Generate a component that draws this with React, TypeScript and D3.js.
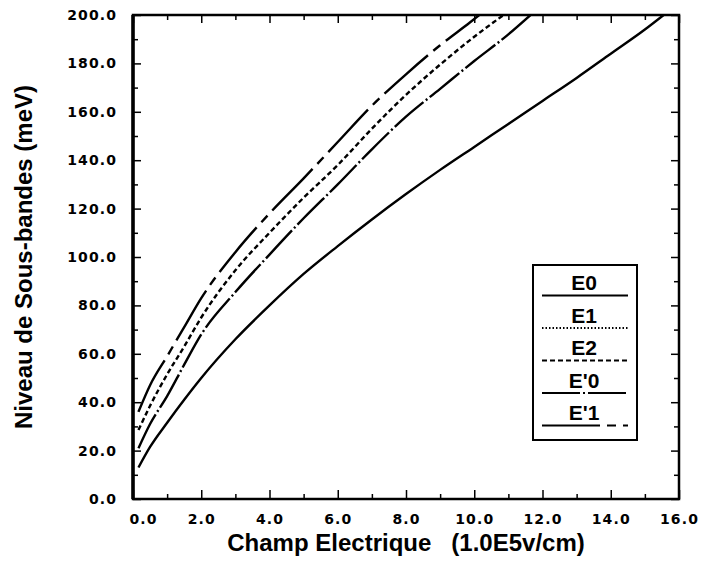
import { useEffect, useRef } from "react";
import {
  select,
  scaleLinear,
  line,
  curveMonotoneX,
  range,
  axisBottom,
  axisLeft,
  axisTop,
  axisRight,
  format,
} from "d3";

// values: [champ, niveau]
const e0 = [
  [0.16, 13], [0.5, 21.5], [1, 31.5], [1.5, 41], [2, 50], [3, 66], [4, 80],
  [5, 93], [6, 104.5], [7, 115.5], [8, 126], [9, 136], [10, 145.5],
  [11, 155], [12, 164.5], [13, 174], [14, 184], [15, 194], [15.55, 200],
];
const e1: number[][] = []; // dotted curve is not visible on the figure
const e2 = [
  [0.16, 28.5], [0.5, 38.5], [1, 51.5], [1.5, 63], [2, 75], [3, 94.5],
  [4, 110], [5, 124.5], [6, 138], [7, 153], [8, 167], [9, 179.5], [10, 191],
  [10.86, 200],
];
const ep0 = [
  [0.16, 21], [0.5, 31], [1, 42.5], [1.5, 55.5], [2, 68], [3, 85.5],
  [4, 101], [5, 116], [6, 130], [7, 144.5], [8, 158], [9, 169.5], [10, 181],
  [11, 192], [11.65, 200],
];
const ep1 = [
  [0.16, 36], [0.5, 47], [1, 59], [1.5, 71], [2, 83], [3, 102], [4, 118],
  [5, 132.5], [6, 147.5], [7, 162.5], [8, 175.5], [9, 187.5], [9.88, 197],
  [10.15, 200],
];

const legendLabels = ["E0", "E1", "E2", "E'0", "E'1"];
const seriesData = [e0, e1, e2, ep0, ep1];
const dashes = ["none", "1.5,2", "5,3", "38,3,2,3", "58,7,9,7"];

const xTicks = range(0, 17, 2);
const xMinor = range(1, 16, 2);
const yTicks = range(0, 201, 20);
const yMinor = range(10, 200, 20);

const W = 706;
const H = 568;
const left = 133;
const right = 679;
const top = 15;
const bottom = 499;

const tickFont = "'DejaVu Sans', sans-serif";
const titleFont = "'Liberation Sans', Arial, sans-serif";

export default function App() {
  const ref = useRef<SVGSVGElement>(null);

  useEffect(() => {
    const svg = select(ref.current);
    svg.selectAll("*").remove();

    const x = scaleLinear().domain([0, 16]).range([left, right]);
    const y = scaleLinear().domain([0, 200]).range([bottom, top]);
    const fmt = format(".1f");

    // bottom axis, major + minor ticks pointing inward
    const gx = svg
      .append("g")
      .attr("transform", `translate(0,${bottom})`)
      .call(axisBottom(x).tickValues(xTicks).tickSize(-9).tickPadding(15).tickFormat((d) => fmt(d as number)));
    gx.selectAll("text").filter((d) => d === 0).attr("dx", 10);
    svg
      .append("g")
      .attr("transform", `translate(0,${bottom})`)
      .call(axisBottom(x).tickValues(xMinor).tickSize(-5).tickFormat(() => ""));

    const gy = svg
      .append("g")
      .attr("transform", `translate(${left},0)`)
      .call(axisLeft(y).tickValues(yTicks).tickSize(-8).tickPadding(16).tickFormat((d) => fmt(d as number)));
    svg
      .append("g")
      .attr("transform", `translate(${left},0)`)
      .call(axisLeft(y).tickValues(yMinor).tickSize(-5).tickFormat(() => ""));

    svg
      .append("g")
      .attr("transform", `translate(0,${top})`)
      .call(axisTop(x).tickValues(xTicks).tickSize(-8).tickFormat(() => ""));
    svg
      .append("g")
      .attr("transform", `translate(0,${top})`)
      .call(axisTop(x).tickValues(xMinor).tickSize(-5).tickFormat(() => ""));
    svg
      .append("g")
      .attr("transform", `translate(${right},0)`)
      .call(axisRight(y).tickValues(yTicks).tickSize(-8).tickFormat(() => ""));
    svg
      .append("g")
      .attr("transform", `translate(${right},0)`)
      .call(axisRight(y).tickValues(yMinor).tickSize(-5).tickFormat(() => ""));

    svg.selectAll(".domain").remove();
    svg.selectAll(".tick line").attr("stroke", "#000").attr("stroke-width", 1.5);
    [gx, gy].forEach((g) =>
      g
        .selectAll("text")
        .attr("font-family", tickFont)
        .attr("font-weight", "bold")
        .attr("font-size", 14)
        .attr("letter-spacing", 1.1)
        .attr("fill", "#000")
    );

    // frame
    svg
      .append("rect")
      .attr("x", left)
      .attr("y", top)
      .attr("width", right - left)
      .attr("height", bottom - top)
      .attr("fill", "none")
      .attr("stroke", "#000")
      .attr("stroke-width", 2.5);
    svg
      .append("line")
      .attr("x1", left)
      .attr("x2", left)
      .attr("y1", top)
      .attr("y2", bottom)
      .attr("stroke", "#000")
      .attr("stroke-width", 3.5);

    // curves
    svg
      .append("clipPath")
      .attr("id", "plot-clip")
      .append("rect")
      .attr("x", left)
      .attr("y", top)
      .attr("width", right - left)
      .attr("height", bottom - top);

    const path = line<number[]>()
      .x((d) => x(d[0]))
      .y((d) => y(d[1]))
      .curve(curveMonotoneX);

    seriesData.forEach((data, i) => {
      if (!data.length) return;
      svg
        .append("path")
        .attr("d", path(data))
        .attr("clip-path", "url(#plot-clip)")
        .attr("fill", "none")
        .attr("stroke", "#000")
        .attr("stroke-width", 2.4)
        .attr("stroke-dasharray", dashes[i]);
    });

    // legend
    const lg = svg.append("g");
    lg.append("rect")
      .attr("x", 533)
      .attr("y", 265)
      .attr("width", 104)
      .attr("height", 175)
      .attr("fill", "#fff")
      .attr("stroke", "#000")
      .attr("stroke-width", 2);
    legendLabels.forEach((label, i) => {
      const base = 290 + i * 32.5;
      lg.append("text")
        .attr("x", 584)
        .attr("y", base)
        .attr("text-anchor", "middle")
        .attr("font-family", titleFont)
        .attr("font-weight", "bold")
        .attr("font-size", 21)
        .text(label);
      lg.append("line")
        .attr("x1", 542)
        .attr("x2", 628)
        .attr("y1", base + 5.5)
        .attr("y2", base + 5.5)
        .attr("stroke", "#000")
        .attr("stroke-width", 2)
        .attr("stroke-dasharray", dashes[i]);
    });

    // axis titles
    svg
      .append("text")
      .attr("x", (left + right) / 2)
      .attr("y", 551)
      .attr("text-anchor", "middle")
      .attr("font-family", titleFont)
      .attr("font-weight", "bold")
      .attr("font-size", 24)
      .attr("xml:space", "preserve")
      .style("white-space", "pre")
      .text("Champ Electrique   (1.0E5v/cm)");
    svg
      .append("text")
      .attr("transform", `translate(32,${(top + bottom) / 2}) rotate(-90)`)
      .attr("text-anchor", "middle")
      .attr("font-family", titleFont)
      .attr("font-weight", "bold")
      .attr("font-size", 24)
      .text("Niveau de Sous-bandes (meV)");
  }, []);

  return (
    <svg
      ref={ref}
      width={W}
      height={H}
      style={{ position: "absolute", left: 0, top: 0, background: "#fff" }}
    />
  );
}
